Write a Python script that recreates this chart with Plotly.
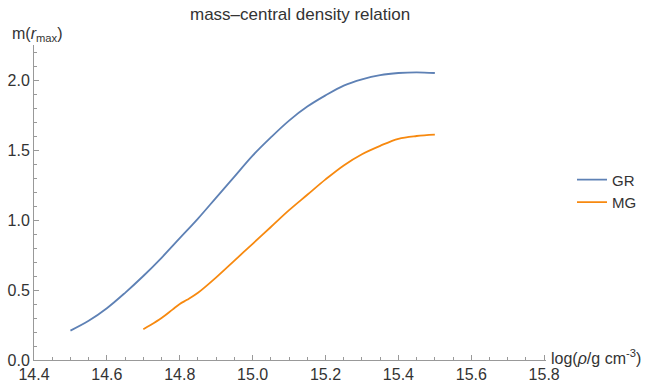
import plotly.graph_objects as go

gr_x = [14.50, 14.55, 14.60, 14.65, 14.70, 14.75, 14.80, 14.85, 14.90, 14.95, 15.00,
        15.05, 15.10, 15.15, 15.20, 15.25, 15.30, 15.35, 15.40, 15.45, 15.50]
gr_y = [0.21, 0.28, 0.37, 0.48, 0.60, 0.73, 0.87, 1.01, 1.16, 1.31, 1.46,
        1.59, 1.71, 1.81, 1.89, 1.96, 2.005, 2.035, 2.05, 2.055, 2.05]

mg_x = [14.70, 14.72, 14.75, 14.78, 14.80, 14.82, 14.85, 14.90, 14.95, 15.00, 15.05,
        15.10, 15.15, 15.20, 15.25, 15.30, 15.35, 15.40, 15.45, 15.50]
mg_y = [0.22, 0.25, 0.30, 0.36, 0.40, 0.43, 0.48, 0.59, 0.71, 0.83, 0.95,
        1.07, 1.18, 1.29, 1.39, 1.47, 1.53, 1.58, 1.60, 1.61]

x_ticks = [14.4, 14.6, 14.8, 15.0, 15.2, 15.4, 15.6, 15.8]
y_ticks = [0.0, 0.5, 1.0, 1.5, 2.0]

FONT = "Liberation Sans, Arial"
TXT = "#333333"

fig = go.Figure()
fig.add_trace(go.Scatter(x=gr_x, y=gr_y, mode="lines", name="GR",
                         line=dict(color="#5E81B5", width=1.8, shape="spline")))
fig.add_trace(go.Scatter(x=mg_x, y=mg_y, mode="lines", name="MG",
                         line=dict(color="#F7890F", width=1.8, shape="spline")))

axis_common = dict(showgrid=False, zeroline=False, showline=True, linecolor="#999999",
                   linewidth=1, ticks="inside", tickcolor="#999999", ticklen=5,
                   automargin=False,
                   tickfont=dict(family=FONT, size=16, color=TXT))

fig.update_xaxes(range=[14.4, 15.805], tickvals=x_ticks,
                 ticktext=[f"{v:.1f}" for v in x_ticks],
                 minor=dict(dtick=0.05, tick0=14.4, ticks="inside", ticklen=3, tickcolor="#999999"),
                 **axis_common)
fig.update_yaxes(range=[0, 2.25], tickvals=y_ticks,
                 ticktext=[f"{v:.1f}" for v in y_ticks],
                 minor=dict(dtick=0.1, tick0=0, ticks="inside", ticklen=3, tickcolor="#999999"),
                 **axis_common)

fig.update_layout(
    width=650, height=385,
    margin=dict(l=34, r=104, t=45, b=25),
    plot_bgcolor="white", paper_bgcolor="white",
    showlegend=True,
    legend=dict(xref="container", yref="container", x=0.88, y=0.504,
                xanchor="left", yanchor="middle",
                font=dict(family=FONT, size=15, color=TXT),
                bgcolor="rgba(0,0,0,0)", itemwidth=30),
    annotations=[
        dict(text="mass–central density relation", x=0.52, y=1.098, xref="paper", yref="paper",
             showarrow=False, xanchor="center", yanchor="middle",
             font=dict(family=FONT, size=17, color=TXT)),
        dict(text="m(<i>r</i><sub>max</sub>)", x=-0.047, y=1.032, xref="paper", yref="paper",
             showarrow=False, xanchor="left", yanchor="middle",
             font=dict(family=FONT, size=16, color=TXT)),
        dict(text="log(<i>ρ</i>/g cm<sup>-3</sup>)", x=1.006, y=0.01, xref="paper", yref="paper",
             showarrow=False, xanchor="left", yanchor="middle",
             font=dict(family=FONT, size=16, color=TXT)),
    ],
)

fig.write_html("out.html")
